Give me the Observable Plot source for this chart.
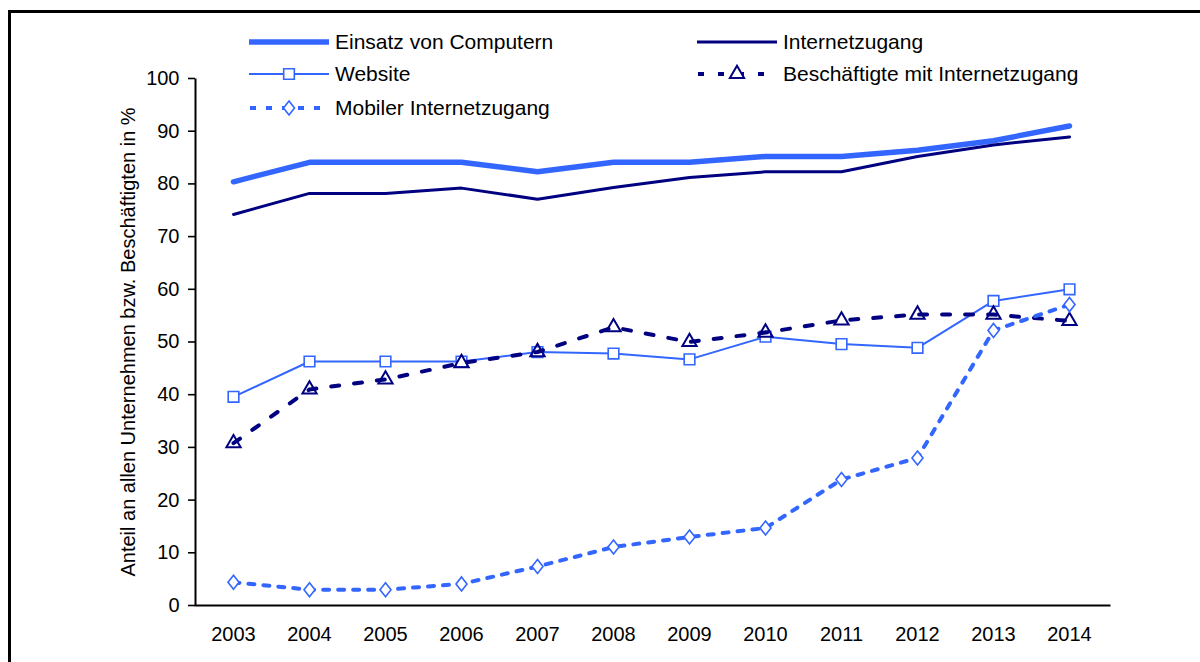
<!DOCTYPE html>
<html>
<head>
<meta charset="utf-8">
<script src="https://cdn.jsdelivr.net/npm/d3@7"></script>
<script src="https://cdn.jsdelivr.net/npm/@observablehq/plot@0.6"></script>
<style>
  body { margin: 0; background: #fff; font-family: "Liberation Sans", Arial, sans-serif; }
  #wrap { position: relative; width: 1200px; height: 662px; overflow: hidden; background: #fff; }
  #frame { position: absolute; left: 8px; top: 10px; width: 1300px; height: 800px; border-left: 3px solid #000; border-top: 3px solid #000; pointer-events: none; }
  #chart { position: absolute; left: 0; top: 0; }
  #legend { position: absolute; left: 0; top: 0; width: 1200px; height: 130px; }
  .item { position: absolute; display: flex; align-items: center; height: 24px; font-size: 21px; color: #000; white-space: nowrap; }
  .item svg { display: block; margin-right: 6px; }
</style>
</head>
<body>
<div id="wrap">
  <div id="chart"></div>
  <div id="legend"></div>
  <div id="frame"></div>
</div>
<script>
const years = [2003, 2004, 2005, 2006, 2007, 2008, 2009, 2010, 2011, 2012, 2013, 2014];
const computer = [80.4, 84.1, 84.1, 84.1, 82.3, 84.1, 84.1, 85.2, 85.2, 86.4, 88.2, 91.0];
const internet = [74.2, 78.2, 78.2, 79.2, 77.1, 79.3, 81.2, 82.3, 82.3, 85.2, 87.4, 88.9];
const website = [39.6, 46.3, 46.3, 46.3, 48.1, 47.8, 46.7, 51.0, 49.6, 48.9, 57.8, 60.0];
const employees = [30.8, 41.0, 42.9, 46.0, 48.1, 52.8, 50.0, 51.8, 54.1, 55.2, 55.2, 54.0];
const mobile = [4.4, 3.0, 3.0, 4.1, 7.4, 11.1, 13.0, 14.7, 23.9, 28.0, 52.2, 57.1];
const yTicks = [0, 10, 20, 30, 40, 50, 60, 70, 80, 90, 100];
const yTitle = "Anteil an allen Unternehmen bzw. Beschäftigten in %";
const seriesNames = ["Einsatz von Computern", "Internetzugang", "Website", "Beschäftigte mit Internetzugang", "Mobiler Internetzugang"];

const BLUE = "#3366ff";
const NAVY = "#000080";

const mk = vals => years.map((y, i) => ({year: y, value: vals[i]}));
const dComp = mk(computer), dInt = mk(internet), dWeb = mk(website), dEmp = mk(employees), dMob = mk(mobile);

// custom diamond: width 11, height 14
const diamond = {
  draw(ctx, size) {
    const h = 7, w = 5.5;
    ctx.moveTo(0, -h); ctx.lineTo(w, 0); ctx.lineTo(0, h); ctx.lineTo(-w, 0); ctx.closePath();
  }
};

const W = 1200 - 195 - 90, H = 662 - 78 - 57;

const chart = Plot.plot({
  width: 1200,
  height: 662,
  marginLeft: 195,
  marginRight: 90,
  marginTop: 78,
  marginBottom: 57,
  style: {fontFamily: "Liberation Sans, Arial, sans-serif", fontSize: "20px", color: "#000", background: "transparent"},
  x: {type: "point", domain: years, range: [231, 1071], padding: 0},
  y: {domain: [0, 100]},
  marks: [
    Plot.axisY({ticks: yTicks, tickSize: 7, tickPadding: 9, label: null, strokeWidth: 1.6, fontSize: 20}),
    Plot.axisX({tickSize: 0, tickPadding: 21, label: null, tickFormat: d => String(d), fontSize: 20}),
    Plot.frame({stroke: "#000", strokeWidth: 2, strokeDasharray: `0,${W + H},${W + H}`}),
    Plot.text([yTitle], {frameAnchor: "left", textAnchor: "middle", dx: -67, rotate: -90, fontSize: 20, fill: "#000"}),
    Plot.line(dComp, {x: "year", y: "value", stroke: BLUE, strokeWidth: 5.5}),
    Plot.line(dInt, {x: "year", y: "value", stroke: NAVY, strokeWidth: 3}),
    Plot.line(dWeb, {x: "year", y: "value", stroke: BLUE, strokeWidth: 2}),
    Plot.dot(dWeb, {x: "year", y: "value", symbol: "square", r: 6, fill: "#fff", stroke: BLUE, strokeWidth: 1.6}),
    Plot.line(dEmp, {x: "year", y: "value", stroke: NAVY, strokeWidth: 4, strokeDasharray: "8,15"}),
    Plot.dot(dEmp, {x: "year", y: "value", symbol: "triangle", r: 5.3, fill: "none", stroke: NAVY, strokeWidth: 2}),
    Plot.line(dMob, {x: "year", y: "value", stroke: BLUE, strokeWidth: 4, strokeDasharray: "6,9"}),
    Plot.dot(dMob, {x: "year", y: "value", symbol: diamond, r: 6, fill: "#fff", stroke: BLUE, strokeWidth: 1.6})
  ]
});
document.getElementById("chart").appendChild(chart);

// legend
const legendItems = [
  {name: seriesNames[0], x: 249, y: 42, color: BLUE, w: 5.5, dash: null, sym: null},
  {name: seriesNames[1], x: 697, y: 42, color: NAVY, w: 3, dash: null, sym: null},
  {name: seriesNames[2], x: 249, y: 74, color: BLUE, w: 2, dash: null, sym: "square"},
  {name: seriesNames[3], x: 697, y: 74, color: NAVY, w: 4, dash: "6,14", sym: "triangle"},
  {name: seriesNames[4], x: 249, y: 108, color: BLUE, w: 4, dash: "6,10", sym: "diamond"}
];
const legend = d3.select("#legend");
legendItems.forEach(it => {
  const div = legend.append("div").attr("class", "item")
    .style("left", it.x + "px").style("top", (it.y - 12) + "px");
  const sw = 80;
  const svg = div.append("svg").attr("width", sw).attr("height", 24);
  const ln = svg.append("line").attr("x1", 0).attr("x2", sw).attr("y1", 12).attr("y2", 12)
    .attr("stroke", it.color).attr("stroke-width", it.w);
  if (it.dash) ln.attr("stroke-dasharray", it.dash).attr("stroke-dashoffset", -1);
  if (it.sym) {
    let d;
    if (it.sym === "square") d = d3.symbol(d3.symbolSquare, Math.PI * 36)();
    else if (it.sym === "triangle") d = d3.symbol(d3.symbolTriangle, Math.PI * 5.3 * 5.3)();
    else d = d3.symbol(diamond, 1)();
    svg.append("path").attr("d", d)
      .attr("transform", `translate(${sw / 2},12)`)
      .attr("fill", it.sym === "triangle" ? "#fff" : "#fff").attr("stroke", it.color).attr("stroke-width", it.sym === "triangle" ? 2 : 1.6);
  }
  div.append("span").text(it.name);
});
</script>
</body>
</html>
